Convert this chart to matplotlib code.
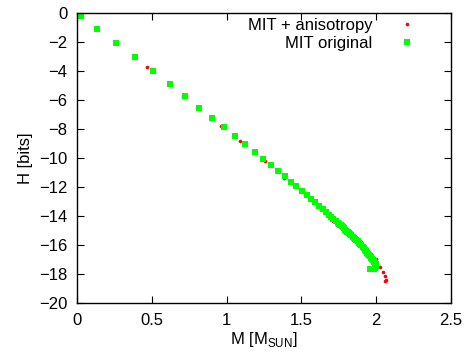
import matplotlib
matplotlib.use("Agg")
import matplotlib.pyplot as plt

plt.rcParams['font.family'] = ['Liberation Sans', 'DejaVu Sans']
plt.rcParams['mathtext.fontset'] = 'custom'
plt.rcParams['mathtext.rm'] = 'Liberation Sans'

# MIT bag model, original sequence
m_orig = [0.027, 0.134, 0.26, 0.388, 0.508, 0.622, 0.722, 0.816, 0.902, 0.983,
          1.056, 1.123, 1.19, 1.243, 1.297, 1.344, 1.39, 1.43, 1.464, 1.504,
          1.537, 1.564, 1.59, 1.618, 1.644, 1.664, 1.684, 1.70, 1.711, 1.728,
          1.745, 1.752, 1.758, 1.764, 1.770, 1.777, 1.784, 1.791, 1.798, 1.805,
          1.812, 1.818, 1.825, 1.833, 1.842, 1.850, 1.858, 1.866, 1.875, 1.883,
          1.892, 1.900, 1.908, 1.916, 1.925, 1.931, 1.938, 1.945, 1.952, 1.957,
          1.962, 1.967, 1.972, 1.977, 1.982, 1.987, 1.992, 1.996, 2.000, 1.998,
          1.990, 1.982, 1.975, 1.968, 1.960]
h_orig = [-0.19, -1.1, -2.07, -3.03, -4.0, -4.9, -5.72, -6.55, -7.24, -7.86,
          -8.48, -9.03, -9.59, -10.07, -10.48, -10.9, -11.24, -11.66, -11.93, -12.28,
          -12.55, -12.83, -13.03, -13.3, -13.5, -13.72, -13.93, -14.07, -14.2, -14.34,
          -14.48, -14.54, -14.60, -14.65, -14.70, -14.78, -14.86, -14.95, -15.03, -15.09,
          -15.14, -15.19, -15.24, -15.33, -15.42, -15.50, -15.59, -15.67, -15.76, -15.85,
          -15.93, -16.03, -16.14, -16.24, -16.34, -16.43, -16.52, -16.60, -16.69, -16.76,
          -16.83, -16.90, -16.97, -17.03, -17.10, -17.17, -17.24, -17.31, -17.38, -17.48,
          -17.58, -17.63, -17.65, -17.65, -17.65]

# MIT bag model with anisotropic pressure
m_aniso = [0.466, 0.709, 0.963, 1.09, 1.257, 1.384, 1.497, 1.584, 1.711, 1.87,
           2.0, 2.025, 2.045, 2.06, 2.065, 2.06]
h_aniso = [-3.75, -5.72, -7.8, -8.83, -10.2, -11.38, -12.34, -13.1, -14.34, -15.7,
           -17.0, -17.5, -17.86, -18.14, -18.41, -18.48]

fig = plt.figure(figsize=(4.67, 3.56), dpi=100)
ax = fig.add_axes([0.165, 0.149, 0.801, 0.8145])

ax.plot(m_aniso, h_aniso, 'o', color='#ff0000', markersize=2.6, markeredgewidth=0,
        label='MIT + anisotropy')
ax.plot(m_orig, h_orig, 's', color='#00ff00', markersize=3.7, markeredgewidth=0,
        label='MIT original')

ax.set_xlim(0, 2.5)
ax.set_ylim(-20, 0)
ax.set_xticks([0, 0.5, 1, 1.5, 2, 2.5])
ax.set_xticklabels(['0', '0.5', '1', '1.5', '2', '2.5'])
ax.set_yticks(range(-20, 1, 2))
ax.tick_params(direction='in', top=True, right=True, length=5, width=0.8,
               labelsize=12, pad=7, colors='black')
for s in ax.spines.values():
    s.set_linewidth(1.0)

ax.set_xlabel('M [M$_{\\mathrm{SUN}}$]', fontsize=12, labelpad=2)
ax.set_ylabel('H [bits]', fontsize=12, labelpad=4)

ax.legend(loc='upper right', frameon=False, markerfirst=False, fontsize=12,
          handletextpad=1.1, handlelength=2.0, labelspacing=0.15, borderaxespad=0.0,
          bbox_to_anchor=(0.945, 1.005))

fig.savefig('out.png', dpi=100)
